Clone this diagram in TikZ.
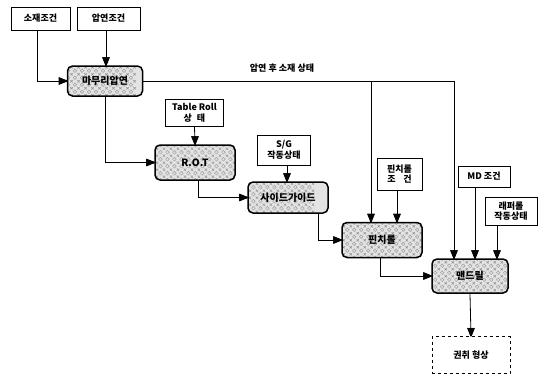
\documentclass[tikz,border=0pt]{standalone}
\usepackage{fontspec}
\newfontfamily\kr{Noto Sans CJK KR}
\tikzset{
  inbox/.style={draw,line width=1pt,fill=white,align=center,inner sep=1pt},
  texture/.style={path picture={
    \foreach \i in {-7,...,7}{\foreach \j in {-4,...,4}{
      \draw[gray!75,line width=0.5pt] (\i*7pt,\j*7pt) circle[radius=1.8pt];
      \draw[gray!85,line width=0.5pt] (\i*7pt+2.3pt,\j*7pt+2.3pt) -- ++(2.4pt,2.4pt)
        (\i*7pt+4.7pt,\j*7pt+2.3pt) -- ++(-2.4pt,2.4pt);
    }}}},
  procbox/.style={draw,line width=1.5pt,rounded corners=5pt,align=center,inner sep=1pt,
    fill=gray!22,texture,font=\kr\bfseries\fontsize{10}{12}\selectfont},
  outbox/.style={draw,dashed,line width=1pt,align=center,inner sep=1pt},
  conn/.style={line width=0.8pt},
  tiphead/.style={fill=black!98,draw=none},
  tipray/.style={draw=black,line width=1.2pt}
}
\newcommand{\downtip}[1]{%
  \foreach \k in {-3.3,-2.2,-1.1,0,1.1,2.2,3.3}{\draw[tipray] (#1) -- ++(\k,8);}%
  \path[tiphead] (#1) -- ++(-3.6,8) -- ++(7.2,0) -- cycle;}
\newcommand{\righttip}[1]{%
  \foreach \k in {-3.3,-2.2,-1.1,0,1.1,2.2,3.3}{\draw[tipray] (#1) -- ++(-8,\k);}%
  \path[tiphead] (#1) -- ++(-8,3.6) -- ++(0,-7.2) -- cycle;}
\begin{document}
\begin{tikzpicture}[x=1pt,y=1pt,font=\kr\bfseries\fontsize{9}{10.5}\selectfont]
\useasboundingbox (0,0) rectangle (550,-378);
% inputs
\node[inbox,minimum width=59pt,minimum height=23pt] (sojae) at (40.5,-18.5) {소재조건};
\node[inbox,minimum width=63pt,minimum height=23pt] (apyeon) at (108.5,-18.5) {압연조건};
\node[inbox,minimum width=58pt,minimum height=27pt] (table) at (194.5,-113) {Table Roll\\상\;\;태};
\node[inbox,minimum width=53pt,minimum height=30pt] (sg) at (284,-150) {S/G\\작동상태};
\node[inbox,minimum width=45pt,minimum height=32pt] (pcond) at (399.5,-174) {핀치롤\\조\;\;\;건};
\node[inbox,minimum width=52pt,minimum height=21pt] (md) at (484,-176.5) {MD 조건};
\node[inbox,minimum width=52pt,minimum height=28pt] (wrap) at (511,-211) {래퍼롤\\작동상태};
\node[outbox,minimum width=78pt,minimum height=37pt] (coil) at (471,-355) {권취 형상};
% label
\node (lbl) at (282,-68) {압연 후 소재 상태};
% processes
\node[procbox,minimum width=75pt,minimum height=30pt] (mamuri) at (105,-81) {마무리압연};
\node[procbox,minimum width=80pt,minimum height=35pt] (rot) at (195,-162.5) {R.O.T};
\node[procbox,minimum width=80pt,minimum height=31pt] (side) at (288,-197.5) {사이드가이드};
\node[procbox,minimum width=80pt,minimum height=35pt] (pinch) at (382,-240) {핀치롤};
\node[procbox,minimum width=76pt,minimum height=34pt] (mandrel) at (470,-276) {맨드릴};
% coordinates
\coordinate (j1) at (371,-81);
\coordinate (j2) at (454,-81);
\coordinate (sd) at (318,-213);
\coordinate (x37) at (37,0);
\coordinate (x106) at (106,0);
\coordinate (x198) at (198,0);
\coordinate (x287) at (287,0);
\coordinate (x397) at (397,0);
\coordinate (x380) at (380,0);
\coordinate (x475) at (475,0);
\coordinate (x497) at (497,0);
% connectors
\draw[conn] (sojae.south -| x37) |- (mamuri.west);
\righttip{mamuri.west}
\draw[conn] (apyeon.south -| x106) -- (mamuri.north -| x106);
\downtip{mamuri.north -| x106}
\draw[conn] (mamuri.east) -- (j2);
\draw[conn] (j1) -- (j1 |- pinch.north);
\downtip{j1 |- pinch.north}
\draw[conn] (j2) -- (j2 |- mandrel.north);
\downtip{j2 |- mandrel.north}
\draw[conn] (mamuri.south) |- (rot.west);
\righttip{rot.west}
\draw[conn] (table.south) -- (rot.north);
\downtip{rot.north}
\draw[conn] (rot.south -| x198) |- (side.west);
\righttip{side.west}
\draw[conn] (sg.south -| x287) -- (side.north -| x287);
\downtip{side.north -| x287}
\draw[conn] (side.south -| sd) |- (pinch.west);
\righttip{pinch.west}
\draw[conn] (pcond.south -| x397) -- (pinch.north -| x397);
\downtip{pinch.north -| x397}
\draw[conn] (pinch.south -| x380) |- (mandrel.west);
\righttip{mandrel.west}
\draw[conn] (md.south -| x475) -- (mandrel.north -| x475);
\downtip{mandrel.north -| x475}
\draw[conn] (wrap.south -| x497) -- (mandrel.north -| x497);
\downtip{mandrel.north -| x497}
\draw[conn] (mandrel.south) -- (coil.north);
\downtip{coil.north}
\end{tikzpicture}
\end{document}
